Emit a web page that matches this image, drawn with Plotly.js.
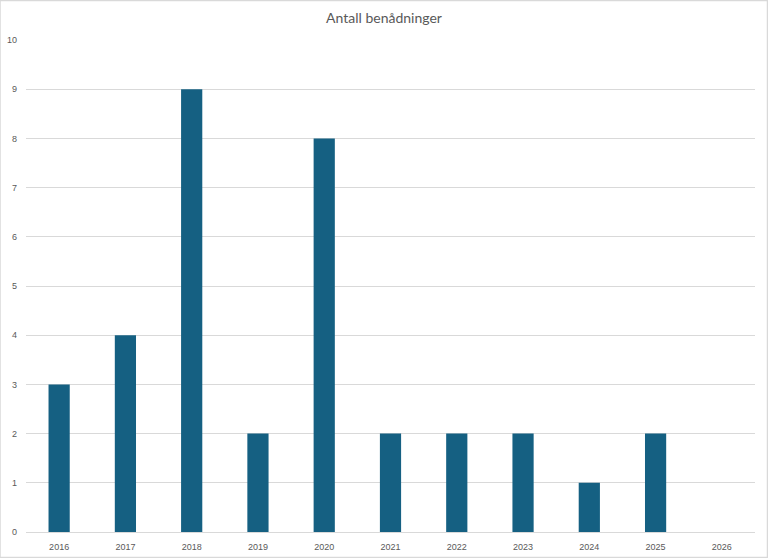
<!DOCTYPE html>
<html>
<head>
<meta charset="utf-8">
<script src="https://cdn.plot.ly/plotly-3.0.1.min.js"></script>
<style>html,body{margin:0;padding:0;background:#fff;}#chart{width:768px;height:558px;}</style>
</head>
<body>
<div id="chart"></div>
<script>
const years = ['2016','2017','2018','2019','2020','2021','2022','2023','2024','2025','2026'];
const pardons = [3, 4, 9, 2, 8, 2, 2, 2, 1, 2, 0];
const chartTitle = 'Antall benådninger';

const trace = {
  type: 'bar',
  x: years,
  y: pardons,
  marker: {color: '#156082'},
  hoverinfo: 'x+y'
};

const layout = {
  width: 768,
  height: 558,
  margin: {l: 26, r: 13, t: 40, b: 26},
  paper_bgcolor: '#ffffff',
  plot_bgcolor: '#ffffff',
  title: {text: chartTitle, x: 0.5, xanchor: 'center', y: 0.968, yanchor: 'middle',
          font: {family: 'Lato, "Open Sans", sans-serif', size: 14, color: '#595959'}},
  bargap: 0.68,
  showlegend: false,
  xaxis: {
    type: 'category',
    showgrid: false,
    showline: true, linecolor: '#d9d9d9', linewidth: 1,
    ticks: '', ticklabelstandoff: 6,
    tickfont: {family: '"Liberation Sans", Arial, sans-serif', size: 9, color: '#595959'},
    fixedrange: true
  },
  yaxis: {
    range: [0, 10], dtick: 1,
    showgrid: true, gridcolor: '#d9d9d9', gridwidth: 1,
    zeroline: false, showline: false,
    ticks: '', ticklabelstandoff: 8,
    tickfont: {family: '"Liberation Sans", Arial, sans-serif', size: 9, color: '#595959'},
    fixedrange: true
  },
  shapes: [{type: 'rect', xref: 'paper', yref: 'paper', x0: -26/729, x1: 1 + 12.5/729, y0: -25.5/492, y1: 1 + 39.5/492,
            line: {color: '#d9d9d9', width: 1.5}, fillcolor: 'rgba(0,0,0,0)', layer: 'below'}]
};

Plotly.newPlot('chart', [trace], layout, {displayModeBar: false, staticPlot: true});
</script>
</body>
</html>
